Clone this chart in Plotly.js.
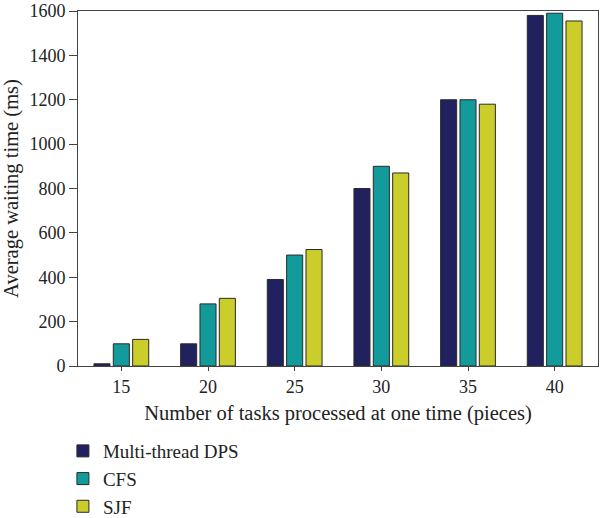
<!DOCTYPE html>
<html>
<head>
<meta charset="utf-8">
<script src="https://cdn.plot.ly/plotly-3.0.1.min.js"></script>
<style>html,body{margin:0;padding:0;background:#fff;}#chart{width:600px;height:518px;}</style>
</head>
<body>
<div id="chart"></div>
<script>
const categories = ["15", "20", "25", "30", "35", "40"];
const dpsValues = [10, 100, 390, 800, 1200, 1580];
const cfsValues = [100, 280, 500, 900, 1200, 1590];
const sjfValues = [120, 305, 525, 870, 1180, 1555];
const seriesNames = ["Multi-thread DPS", "CFS", "SJF"];
const yTicks = [0, 200, 400, 600, 800, 1000, 1200, 1400, 1600];

const colors = ["#222160", "#139b9b", "#cbcd2b"];
const allValues = [dpsValues, cfsValues, sjfValues];
const traces = allValues.map((vals, i) => ({
  type: "bar",
  name: seriesNames[i],
  x: categories,
  y: vals,
  marker: { color: colors[i], line: { color: "#2a2a2a", width: 1 } },
  hoverinfo: "skip"
}));

const font = "Liberation Serif, DejaVu Serif, serif";
const layout = {
  width: 600, height: 518,
  margin: { l: 78, r: 2, t: 11, b: 152, autoexpand: false },
  paper_bgcolor: "#fff", plot_bgcolor: "#fff",
  font: { family: font, size: 18, color: "#222" },
  barmode: "group",
  bargap: 0.33,
  bargroupgap: 0.17,
  showlegend: true,
  legend: {
    orientation: "v", x: -0.029, xanchor: "left", y: -0.186, yanchor: "top",
    font: { family: font, size: 19, color: "#222" },
    tracegroupgap: 0, itemwidth: 30
  },
  xaxis: {
    type: "category",
    range: [-0.5, 5.5],
    showline: true, linecolor: "#444", linewidth: 1, mirror: true,
    ticks: "outside", ticklen: 4, tickcolor: "#444",
    tickfont: { family: font, size: 18, color: "#222" },
    title: { text: "Number of tasks processed at one time (pieces)", font: { family: font, size: 20.5, color: "#222" }, standoff: 10 },
    showgrid: false, zeroline: false, fixedrange: true
  },
  yaxis: {
    range: [0, 1600],
    tickvals: yTicks,
    showline: true, linecolor: "#444", linewidth: 1, mirror: true,
    ticks: "outside", ticklen: 8, tickcolor: "#444",
    tickfont: { family: font, size: 18, color: "#222" },
    title: { text: "Average waiting time (ms)", font: { family: font, size: 20.5, color: "#222" }, standoff: 6 },
    showgrid: false, zeroline: false, fixedrange: true
  }
};
Plotly.newPlot("chart", traces, layout, { displayModeBar: false, staticPlot: true });
</script>
</body>
</html>
